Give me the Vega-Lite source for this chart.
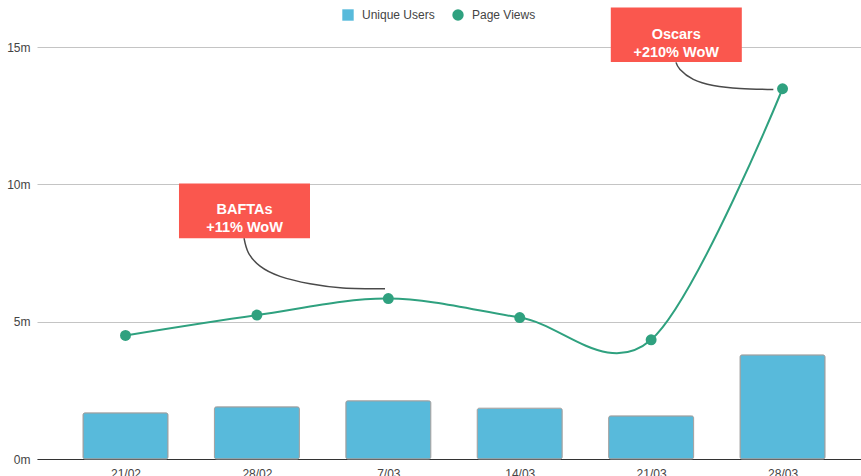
{
  "$schema": "https://vega.github.io/schema/vega-lite/v6.json",
  "width": 824,
  "height": 412,
  "autosize": {"type": "none"},
  "padding": {"left": 37, "top": 47, "right": 0, "bottom": 17},
  "background": "white",
  "config": {
    "font": "Liberation Sans",
    "view": {"stroke": null},
    "axis": {"labelFont": "Liberation Sans", "labelFontSize": 12, "labelColor": "#444444"},
    "legend": {"labelFont": "Liberation Sans", "labelFontSize": 12, "labelColor": "#444444"}
  },
  "datasets": {
    "weekly": [
      {"week": 0, "date": "21/02", "users": 1680000, "views": 4500000},
      {"week": 1, "date": "28/02", "users": 1900000, "views": 5240000},
      {"week": 2, "date": "7/03", "users": 2120000, "views": 5840000},
      {"week": 3, "date": "14/03", "users": 1850000, "views": 5150000},
      {"week": 4, "date": "21/03", "users": 1570000, "views": 4340000},
      {"week": 5, "date": "28/03", "users": 3790000, "views": 13480000}
    ],
    "notes": [
      {"event": "BAFTAs", "text": "BAFTAs\n+11% WoW", "x1": 0.407, "x2": 1.404, "y1": 8040000, "y2": 10030000, "xc": 0.906, "yc": 9050000},
      {"event": "Oscars", "text": "Oscars\n+210% WoW", "x1": 3.693, "x2": 4.69, "y1": 14450000, "y2": 16440000, "xc": 4.191, "yc": 15440000}
    ],
    "connectors": [
      {"event": "BAFTAs", "x": 0.902, "y": 8040000},
      {"event": "BAFTAs", "x": 0.935, "y": 7510000},
      {"event": "BAFTAs", "x": 1.024, "y": 7020000},
      {"event": "BAFTAs", "x": 1.176, "y": 6650000},
      {"event": "BAFTAs", "x": 1.404, "y": 6380000},
      {"event": "BAFTAs", "x": 1.655, "y": 6230000},
      {"event": "BAFTAs", "x": 1.975, "y": 6200000},
      {"event": "Oscars", "x": 4.189, "y": 14440000},
      {"event": "Oscars", "x": 4.22, "y": 14180000},
      {"event": "Oscars", "x": 4.321, "y": 13820000},
      {"event": "Oscars", "x": 4.473, "y": 13600000},
      {"event": "Oscars", "x": 4.676, "y": 13490000},
      {"event": "Oscars", "x": 4.93, "y": 13450000}
    ]
  },
  "layer": [
    {
      "data": {"name": "weekly"},
      "mark": {"type": "bar", "width": 85, "stroke": "#a0a0a0", "strokeWidth": 1, "cornerRadius": 2},
      "encoding": {
        "x": {
          "field": "week", "type": "quantitative",
          "scale": {"domain": [-0.6735, 5.597], "nice": false, "zero": false, "padding": 0},
          "axis": {
            "title": null, "values": [0, 1, 2, 3, 4, 5], "grid": false, "ticks": false,
            "domainColor": "#333333", "domainWidth": 1, "labelPadding": 9,
            "labelExpr": "['21/02','28/02','7/03','14/03','21/03','28/03'][datum.value]"
          }
        },
        "y": {
          "field": "users", "type": "quantitative",
          "scale": {"domain": [0, 15000000], "nice": false},
          "axis": {
            "title": null, "values": [0, 5000000, 10000000, 15000000], "domain": false, "ticks": false,
            "gridColor": "#c4c4c4", "labelPadding": 7,
            "labelExpr": "(datum.value / 1000000) + 'm'"
          }
        },
        "color": {
          "datum": "Unique Users",
          "type": "nominal",
          "scale": {"domain": ["Unique Users", "Page Views"], "range": ["#58BADB", "#2FA17F"]},
          "legend": {
            "title": null, "orient": "none", "direction": "horizontal",
            "legendX": 305, "legendY": -38, "symbolSize": 130, "symbolStrokeWidth": 0,
            "columnPadding": 17, "labelOffset": 8
          }
        }
      }
    },
    {
      "data": {"name": "weekly"},
      "mark": {"type": "line", "interpolate": "cardinal", "color": "#2FA17F", "strokeWidth": 2},
      "encoding": {
        "x": {"field": "week", "type": "quantitative"},
        "y": {"field": "views", "type": "quantitative"}
      }
    },
    {
      "data": {"name": "weekly"},
      "mark": {"type": "point", "filled": true, "size": 120, "opacity": 1},
      "encoding": {
        "x": {"field": "week", "type": "quantitative"},
        "y": {"field": "views", "type": "quantitative"},
        "color": {
          "datum": "Page Views",
          "type": "nominal",
          "scale": {"domain": ["Unique Users", "Page Views"], "range": ["#58BADB", "#2FA17F"]},
          "legend": {
            "title": null, "orient": "none", "direction": "horizontal",
            "legendX": 305, "legendY": -38, "symbolSize": 130, "symbolStrokeWidth": 0,
            "columnPadding": 17, "labelOffset": 8
          }
        },
        "shape": {
          "datum": "Page Views",
          "type": "nominal",
          "scale": {"domain": ["Unique Users", "Page Views"], "range": ["square", "circle"]},
          "legend": {
            "title": null, "orient": "none", "direction": "horizontal",
            "legendX": 305, "legendY": -38, "symbolSize": 130, "symbolStrokeWidth": 0,
            "columnPadding": 17, "labelOffset": 8
          }
        }
      }
    },
    {
      "data": {"name": "connectors"},
      "mark": {"type": "line", "interpolate": "natural", "color": "#4a4a4a", "strokeWidth": 1.5},
      "encoding": {
        "x": {"field": "x", "type": "quantitative"},
        "y": {"field": "y", "type": "quantitative"},
        "detail": {"field": "event"}
      }
    },
    {
      "data": {"name": "notes"},
      "mark": {"type": "rect", "color": "#FA574E"},
      "encoding": {
        "x": {"field": "x1", "type": "quantitative"},
        "x2": {"field": "x2"},
        "y": {"field": "y1", "type": "quantitative"},
        "y2": {"field": "y2"}
      }
    },
    {
      "data": {"name": "notes"},
      "mark": {"type": "text", "color": "white", "fontWeight": "bold", "fontSize": 14.5, "lineBreak": "\n", "lineHeight": 18, "align": "center", "baseline": "middle"},
      "encoding": {
        "x": {"field": "xc", "type": "quantitative"},
        "y": {"field": "yc", "type": "quantitative"},
        "text": {"field": "text"}
      }
    }
  ]
}
